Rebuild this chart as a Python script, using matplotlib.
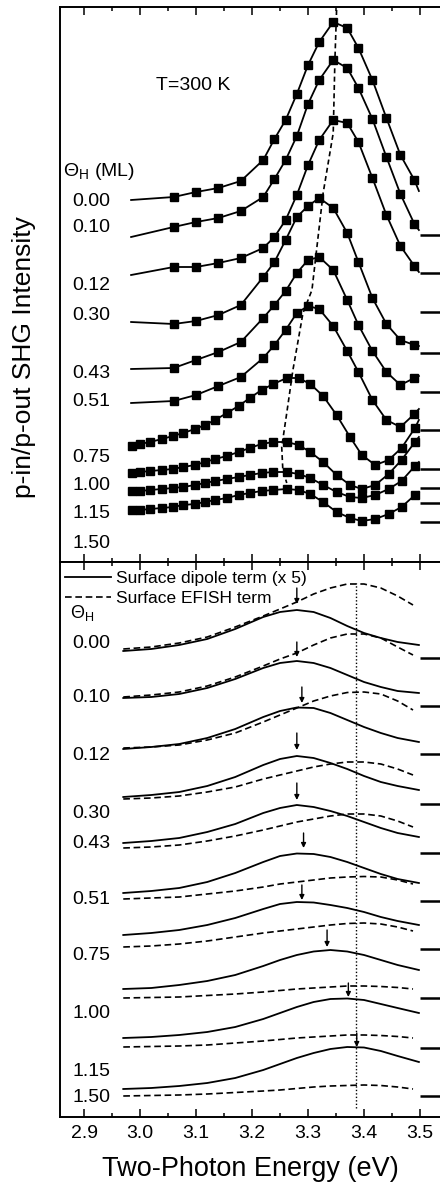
import matplotlib
matplotlib.use('Agg')
import matplotlib.pyplot as plt
from matplotlib.ticker import MultipleLocator

plt.rcParams['font.family'] = ['Liberation Sans', 'DejaVu Sans']
plt.rcParams['mathtext.fontset'] = 'custom'
plt.rcParams['mathtext.rm'] = 'Liberation Sans'

# ---- data (arbitrary intensity units) ----
coverage = ['0.00', '0.10', '0.12', '0.30', '0.43', '0.51', '0.75', '1.00', '1.15', '1.50']

# top panel: measured p-in/p-out SHG spectra (squares) and fits (lines)
e_sparse = [2.984, 3.06, 3.10, 3.14, 3.18, 3.22, 3.24, 3.26, 3.28, 3.30, 3.32, 3.345,
            3.37, 3.39, 3.415, 3.44, 3.465, 3.49, 3.498]
e_dense = [2.985, 3.000, 3.018, 3.039, 3.059, 3.077, 3.098, 3.116, 3.134, 3.155, 3.176,
           3.196, 3.217, 3.238, 3.262, 3.283, 3.304, 3.327, 3.351, 3.375, 3.396, 3.420,
           3.444, 3.467, 3.491, 3.498]

shg_000 = [36.2, 36.5, 37.0, 37.4, 38.1, 40.2, 42.3, 44.2, 46.8, 49.7, 52.0, 54.0, 53.4, 51.4, 48.2, 44.4, 40.7, 38.2, 37.1]
shg_010 = [32.5, 33.5, 34.0, 34.4, 35.1, 36.5, 38.3, 40.2, 42.6, 45.8, 48.2, 50.2, 49.4, 47.4, 44.3, 40.5, 36.8, 33.8, 33.2]
shg_012 = [28.7, 29.5, 29.5, 29.9, 30.4, 31.4, 32.5, 34.2, 36.7, 39.7, 42.2, 44.2, 43.9, 42.0, 38.4, 34.7, 31.6, 29.6, 29.0]
shg_030 = [24.0, 23.8, 24.1, 24.7, 25.7, 28.5, 30.0, 32.2, 34.5, 35.6, 36.4, 35.4, 32.9, 30.0, 26.4, 23.8, 22.2, 21.7, 21.6]
shg_043 = [19.3, 19.4, 20.2, 21.0, 22.0, 24.4, 25.7, 27.1, 28.9, 30.2, 30.5, 29.2, 26.2, 23.7, 21.1, 19.0, 17.7, 18.4, 18.6]
shg_051 = [15.9, 16.1, 16.7, 17.6, 18.5, 20.4, 21.7, 23.2, 24.9, 25.6, 25.3, 23.6, 21.1, 19.0, 16.2, 14.2, 13.5, 14.8, 15.3]
shg_075 = [11.6, 11.8, 12.0, 12.3, 12.6, 12.9, 13.3, 13.7, 14.2, 14.9, 15.6, 16.4, 17.2, 17.8, 18.4, 18.4,
           17.8, 16.6, 14.7, 12.5, 10.7, 9.7, 10.2, 11.4, 13.4, 14.2]
shg_100 = [8.9, 9.0, 9.1, 9.2, 9.3, 9.5, 9.7, 10.0, 10.3, 10.6, 11.0, 11.4, 11.8, 12.0, 12.0, 11.7,
           11.0, 10.0, 8.7, 7.7, 7.3, 7.7, 8.8, 10.2, 12.0, 12.5]
shg_115 = [7.1, 7.1, 7.2, 7.3, 7.4, 7.5, 7.7, 7.9, 8.1, 8.3, 8.5, 8.7, 8.9, 9.0, 9.0, 8.8,
           8.4, 7.7, 7.0, 6.5, 6.4, 6.7, 7.3, 8.1, 9.6, 10.0]
shg_150 = [5.2, 5.2, 5.3, 5.4, 5.5, 5.7, 5.8, 6.0, 6.2, 6.4, 6.7, 6.9, 7.1, 7.2, 7.3, 7.2,
           6.8, 6.0, 5.0, 4.4, 4.1, 4.3, 4.8, 5.5, 6.7, 7.0]

top_sparse = [shg_000, shg_010, shg_012, shg_030, shg_043, shg_051]
top_dense = [shg_075, shg_100, shg_115, shg_150]

# resonance peak position guide (dashed line, top panel)
peak_e = [3.351, 3.348, 3.345, 3.327, 3.307, 3.291, 3.273, 3.262, 3.253, 3.255, 3.262]
peak_v = [55.2, 50.2, 42.9, 36.9, 27.2, 24.9, 19.2, 14.9, 11.5, 9.2, 7.9]

# zero levels (right-hand marks)
zero_top = [32.7, 28.9, 25.0, 20.9, 17.0, 13.2, 9.3, 7.4, 5.9, 4.0]
zero_bot = [45.9, 41.1, 36.3, 31.3, 26.4, 21.6, 16.8, 11.9, 6.9, 2.1]

# bottom panel: model decomposition
e_dipole = [2.970, 3.020, 3.070, 3.120, 3.170, 3.220, 3.250, 3.280, 3.310, 3.340, 3.370, 3.400, 3.430, 3.460, 3.498]
e_efish = [2.970, 3.020, 3.070, 3.120, 3.170, 3.220, 3.250, 3.280, 3.310, 3.340, 3.370, 3.400, 3.430, 3.460, 3.4875]

dipole = [
    [46.6, 46.8, 47.2, 47.8, 48.8, 50.0, 50.5, 50.7, 50.5, 49.9, 49.1, 48.4, 47.9, 47.5, 47.2],
    [41.9, 42.0, 42.3, 42.9, 43.8, 44.9, 45.4, 45.6, 45.4, 44.9, 44.2, 43.5, 43.0, 42.6, 42.4],
    [36.8, 37.0, 37.3, 37.9, 38.8, 40.0, 40.6, 40.95, 40.9, 40.4, 39.7, 39.0, 38.4, 37.9, 37.5],
    [32.0, 32.2, 32.5, 33.1, 34.0, 35.2, 35.8, 36.1, 35.9, 35.4, 34.8, 34.1, 33.5, 33.1, 32.7],
    [27.4, 27.6, 27.9, 28.5, 29.3, 30.4, 30.9, 31.2, 31.0, 30.6, 30.1, 29.5, 28.9, 28.4, 28.0],
    [22.4, 22.6, 22.9, 23.5, 24.4, 25.5, 26.1, 26.35, 26.3, 26.0, 25.5, 24.9, 24.3, 23.8, 23.4],
    [18.2, 18.4, 18.7, 19.2, 19.9, 20.8, 21.3, 21.5, 21.45, 21.2, 20.9, 20.5, 20.0, 19.6, 19.2],
    [12.8, 12.9, 13.2, 13.6, 14.2, 15.1, 15.7, 16.2, 16.55, 16.7, 16.55, 16.2, 15.7, 15.2, 14.7],
    [7.9, 8.0, 8.2, 8.5, 9.0, 9.8, 10.4, 11.0, 11.5, 11.8, 11.85, 11.7, 11.3, 10.9, 10.4],
    [2.8, 2.9, 3.1, 3.4, 3.9, 4.7, 5.3, 5.9, 6.4, 6.8, 7.0, 6.95, 6.6, 6.1, 5.5],
]
efish = [
    [46.8, 47.0, 47.4, 48.0, 49.0, 50.1, 50.8, 51.5, 52.3, 52.9, 53.3, 53.3, 52.9, 52.1, 51.2],
    [42.0, 42.2, 42.5, 43.1, 44.0, 45.1, 45.8, 46.4, 47.2, 47.9, 48.3, 48.3, 47.9, 47.0, 46.2],
    [36.9, 37.0, 37.2, 37.7, 38.4, 39.5, 40.2, 40.9, 41.6, 42.1, 42.45, 42.5, 42.3, 41.6, 40.7],
    [31.8, 31.9, 32.1, 32.5, 33.0, 33.8, 34.2, 34.6, 35.0, 35.3, 35.5, 35.5, 35.3, 34.8, 34.2],
    [26.9, 27.0, 27.2, 27.6, 28.1, 28.7, 29.1, 29.5, 29.8, 30.1, 30.3, 30.3, 30.1, 29.6, 29.0],
    [21.8, 21.9, 22.0, 22.3, 22.6, 23.0, 23.3, 23.5, 23.7, 23.9, 24.0, 24.05, 24.0, 23.7, 23.3],
    [17.0, 17.1, 17.3, 17.6, 18.0, 18.4, 18.6, 18.8, 19.0, 19.2, 19.35, 19.4, 19.3, 19.0, 18.6],
    [11.9, 11.95, 12.0, 12.15, 12.3, 12.5, 12.65, 12.8, 12.9, 13.0, 13.1, 13.1, 13.05, 12.95, 12.8],
    [7.0, 7.05, 7.1, 7.2, 7.4, 7.6, 7.75, 7.9, 8.0, 8.1, 8.2, 8.2, 8.15, 8.05, 7.9],
    [2.1, 2.15, 2.2, 2.3, 2.45, 2.6, 2.7, 2.85, 3.0, 3.1, 3.15, 3.2, 3.15, 3.0, 2.8],
]

# arrows marking the dipole-term maximum
arrow_e = [3.280, 3.280, 3.289, 3.280, 3.280, 3.292, 3.289, 3.334, 3.372, 3.387]
arrow_from = [52.9, 47.5, 43.0, 38.4, 33.4, 28.4, 23.2, 18.7, 13.4, 8.4]
arrow_to = [51.3, 46.0, 41.4, 36.7, 31.7, 26.9, 21.7, 17.0, 12.0, 7.0]

efish_res = 3.386  # dotted line, eV

# label heights (layout)
label_y_top = [36.0, 33.4, 27.6, 24.6, 18.9, 16.1, 10.4, 7.6, 4.8, 1.9]
label_y_bot = [47.3, 42.0, 36.2, 30.3, 27.35, 21.7, 16.1, 10.4, 4.6, 1.9]

# ---- figure ----
fig = plt.figure(figsize=(4.4, 11.9), dpi=100)
ax_top = fig.add_axes([60 / 440, 1 - 562 / 1190, 380 / 440, 555 / 1190])
ax_bot = fig.add_axes([60 / 440, 1 - 1117 / 1190, 380 / 440, 555 / 1190])

for ax in (ax_top, ax_bot):
    ax.set_xlim(2.857, 3.5357)
    ax.set_ylim(0, 55.5)
    ax.xaxis.set_major_locator(MultipleLocator(0.1))
    ax.xaxis.set_minor_locator(MultipleLocator(0.05))
    ax.tick_params(axis='x', which='both', direction='in', top=True, bottom=True,
                   width=1.1, labelsize=14, pad=6)
    ax.tick_params(axis='x', which='major', length=6)
    ax.tick_params(axis='x', which='minor', length=3)
    ax.set_yticks([])
    ax.spines['right'].set_visible(False)
    for s in ('left', 'top', 'bottom'):
        ax.spines[s].set_linewidth(1.4)
ax_top.tick_params(axis='x', labelbottom=False)

# top panel
for vals in top_sparse:
    ax_top.plot(e_sparse, vals, color='k', lw=1.3)
    ax_top.plot(e_sparse[1:-1], vals[1:-1], 's', color='k', ms=5.8)
for vals in top_dense:
    ax_top.plot(e_dense, vals, color='k', lw=1.3)
    ax_top.plot(e_dense[:-1], vals[:-1], 's', color='k', ms=5.8)
ax_top.plot(peak_e, peak_v, color='k', lw=1.2, dashes=(3, 2))
ax_top.hlines(zero_top, 3.5, 3.5357, color='k', lw=1.8)

ax_top.text(3.094, 47.7, 'T=300 K', fontsize=14, ha='center', va='center')
ax_top.text(2.8625, 39.0, 'Θ$_\\mathrm{H}$ (ML)', fontsize=14, ha='left', va='center')
for lab, y in zip(coverage, label_y_top):
    ax_top.text(2.879, y, lab, fontsize=14, ha='left', va='center')

# bottom panel
for i in range(len(coverage)):
    ax_bot.plot(e_dipole, dipole[i], color='k', lw=1.3,
                label='Surface dipole term (x 5)' if i == 0 else None)
    ax_bot.plot(e_efish, efish[i], color='k', lw=1.2, dashes=(4, 2.2),
                label='Surface EFISH term' if i == 0 else None)
    ax_bot.annotate('', xy=(arrow_e[i], arrow_to[i]), xytext=(arrow_e[i], arrow_from[i]),
                    arrowprops=dict(arrowstyle='-|>', color='k', lw=1.0,
                                    mutation_scale=7, shrinkA=0, shrinkB=0))
ax_bot.vlines(efish_res, 0.9, 53.4, color='k', lw=1.0, linestyles=(0, (1, 1.5)))
ax_bot.hlines(zero_bot, 3.5, 3.5357, color='k', lw=1.8)

ax_bot.legend(loc='upper left', bbox_to_anchor=(0.005, 0.99), frameon=False, fontsize=12.5,
              handlelength=2.6, handletextpad=0.3, labelspacing=0.25, borderpad=0.2,
              borderaxespad=0.0)
ax_bot.text(2.875, 50.4, 'Θ$_\\mathrm{H}$', fontsize=13, ha='left', va='center')
for lab, y in zip(coverage, label_y_bot):
    ax_bot.text(2.879, y, lab, fontsize=14, ha='left', va='center')

ax_bot.set_xlabel('Two-Photon Energy (eV)', fontsize=19.5, labelpad=10)
fig.text(24 / 440, 1 - 357 / 1190, 'p-in/p-out SHG Intensity', fontsize=19,
         rotation=90, ha='center', va='center')

fig.savefig('out.png', dpi=100)
